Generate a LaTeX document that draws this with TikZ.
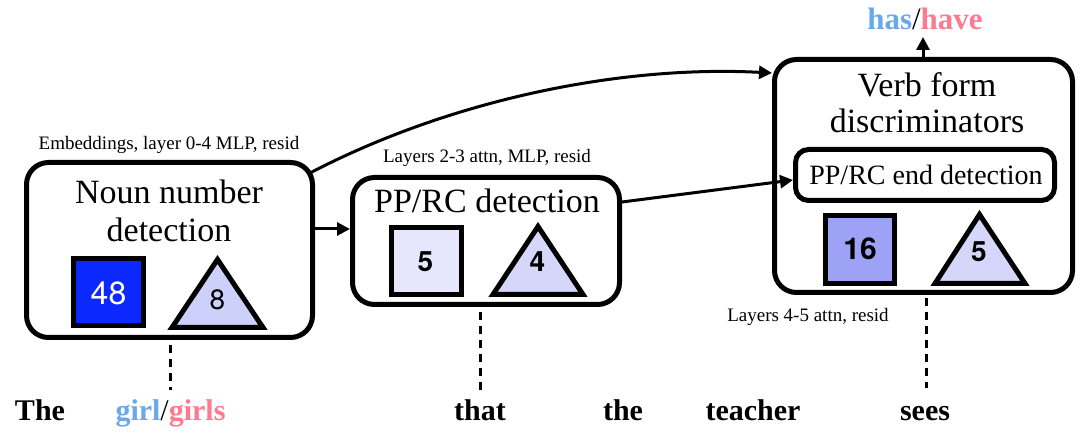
\documentclass[tikz,border=0pt]{standalone}
\usepackage{fontspec}
\usetikzlibrary{arrows.meta,calc}
\setmainfont{Liberation Serif}
\newfontfamily\wordfont{Liberation Serif}
\newfontfamily\numfont{TeX Gyre Heros}
\definecolor{sgblue}{HTML}{6AA8EE}
\definecolor{plpink}{HTML}{FF7A8E}
\definecolor{fillA}{HTML}{0A28FF}
\definecolor{fillB}{HTML}{CDD0FA}
\definecolor{fillC}{HTML}{E6E7FC}
\definecolor{fillD}{HTML}{D5D6FA}
\definecolor{fillE}{HTML}{9DA2F6}
\begin{document}
\begin{tikzpicture}[x=1pt,y=-1pt,
  box/.style={draw,line width=5pt,rounded corners=22pt,inner sep=0pt},
  sq/.style={draw,line width=5pt,inner sep=0pt,minimum width=70pt,minimum height=67pt},
  tri/.style={draw,line width=5pt,line join=miter},
  title/.style={anchor=base,inner sep=0pt,font=\fontsize{34}{38}\selectfont},
  small/.style={anchor=base,inner sep=0pt,font=\fontsize{19}{22}\selectfont},
  num/.style={inner sep=0pt,font=\numfont\fontsize{28}{32}\selectfont},
  bnum/.style={inner sep=0pt,font=\numfont\bfseries\fontsize{28}{32}\selectfont},
  word/.style={anchor=base,inner sep=0pt,font=\wordfont\bfseries\fontsize{30}{36}\selectfont},
  arr/.style={line width=3pt,-{Triangle[length=13pt,width=13pt]}},
  dashline/.style={line width=3pt,dash pattern=on 8pt off 6pt}]
\useasboundingbox (0,0) rectangle (1084,435);

% boxes
\node[box,minimum width=286pt,minimum height=175pt] (b1) at (169.5,250) {};
\node[box,minimum width=267pt,minimum height=127pt] (b2) at (486,241) {};
\node[box,minimum width=298pt,minimum height=233pt] (b3) at (923.5,176) {};
\node[box,rounded corners=13pt,minimum width=259pt,minimum height=51pt] (b3in) at (925,175) {};

% titles
\node[small] (l1) at (169,150) {Embeddings, layer 0-4 MLP, resid};
\node[title] (t1a) at (169,204) {Noun number};
\node[title] (t1b) at (169,242) {detection};
\node[small] (l2) at (487,163) {Layers 2-3 attn, MLP, resid};
\node[title] (t2) at (487,213) {PP/RC detection};
\node[title] (t3a) at (927,97) {Verb form};
\node[title] (t3b) at (927,133) {discriminators};
\node[title,font=\fontsize{28}{32}\selectfont] (t3c) at (926,185) {PP/RC end detection};
\node[small] (l3) at (808,322) {Layers 4-5 attn, resid};

% squares and triangles
\node[sq,fill=fillA] (s1) at (108.5,292.5) {};
\node[num,text=white,font=\numfont\fontsize{32}{36}\selectfont] (n1) at (108.5,293.5) {48};
\draw[tri,fill=fillB] (172,327.5) -- (217.5,259.5) -- (263,327.5) -- cycle;
\node[num] (n2) at (217.5,300) {8};

\node[sq,fill=fillC] (s2) at (426.5,261.5) {};
\node[bnum] (n3) at (425.5,261.5) {5};
\draw[tri,fill=fillD] (493,294.5) -- (538,226.5) -- (583,294.5) -- cycle;
\node[bnum] (n4) at (537.5,262) {4};

\node[sq,fill=fillE,minimum width=69pt,minimum height=68pt] (s3) at (860,249.5) {};
\node[bnum,font=\numfont\bfseries\fontsize{30}{34}\selectfont] (n5) at (860,249) {16};
\draw[tri,fill=fillD] (935,283.5) -- (979.5,214.5) -- (1025,283.5) -- cycle;
\node[bnum] (n6) at (979,252) {5};

% output
\node[word,font=\wordfont\bfseries\fontsize{31}{36}\selectfont] (out) at (925,30) {\textcolor{sgblue}{has}{\mdseries/}\textcolor{plpink}{have}};

% bottom words
\node[word] (w1) at (40,420) {The};
\node[word] (w2) at (170.5,420) {\textcolor{sgblue}{girl}{\mdseries/}\textcolor{plpink}{girls}};
\node[word] (w3) at (480,420) {that};
\node[word] (w4) at (623,420) {the};
\node[word] (w5) at (753,420) {teacher};
\node[word] (w6) at (925,420) {sees};

% arrows
\coordinate (outtip) at (923,37);
\draw[arr] (b3.north -| outtip) -- (outtip);
\draw[arr] (b1.east |- 0,229) -- (b2.west |- 0,229);
\draw[arr] (310,173) .. controls (450,100) and (620,65) .. (b3.west |- 0,73);
\draw[arr] (b2.east |- 0,202) -- (b3in.west |- 0,180);

% dashed lines
\coordinate (d1) at (170,390);
\coordinate (d2) at (480,390);
\coordinate (d3) at (926,388);
\draw[dashline] (b1.south -| d1) ++(0,5) -- (d1);
\draw[dashline] (b2.south -| d2) ++(0,5) -- (d2);
\draw[dashline] (b3.south -| d3) ++(0,3) -- (d3);
\end{tikzpicture}
\end{document}
